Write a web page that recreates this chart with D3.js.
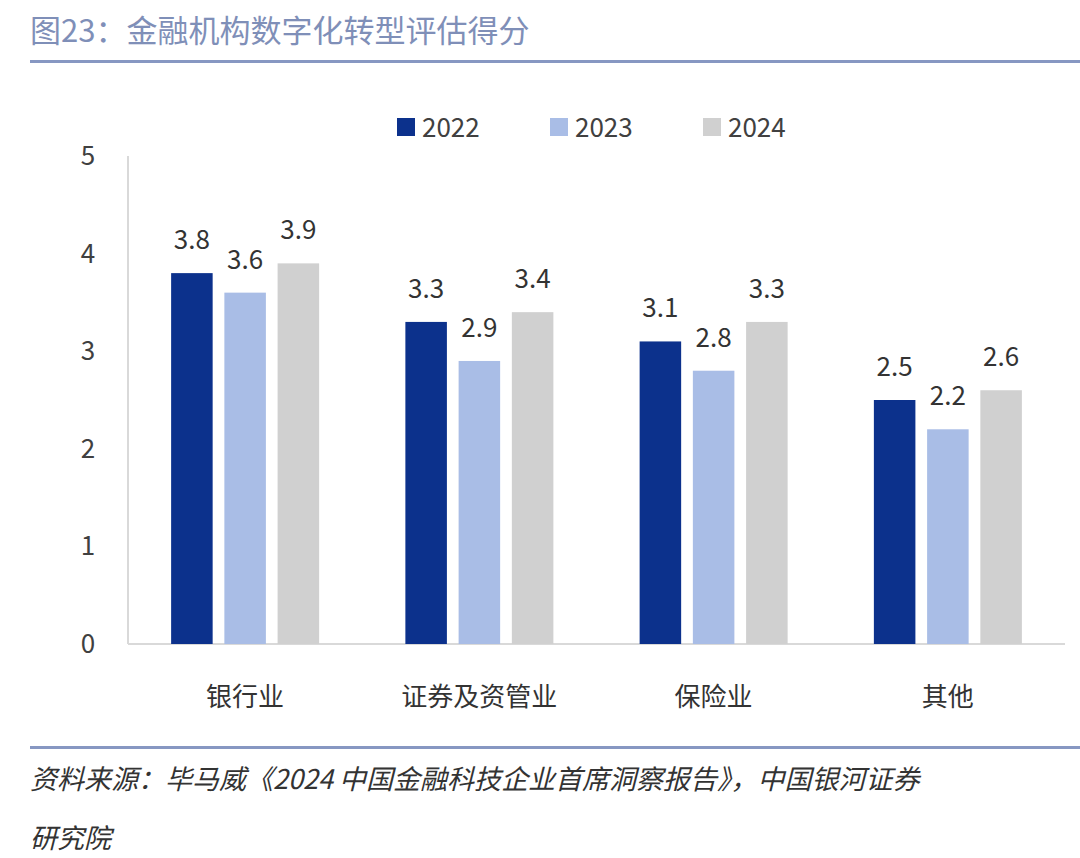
<!DOCTYPE html><html><head><meta charset="utf-8"><script src="https://cdn.jsdelivr.net/npm/d3@7"></script>
<style>body{margin:0;background:#fff}text{font-family:"Noto Sans CJK SC","Noto Sans",sans-serif}</style></head><body>
<svg id="c" width="1080" height="858"></svg>
<script>
const categories=["银行业","证券及资管业","保险业","其他"];
const seriesNames=["2022","2023","2024"];
const v2022=[3.8,3.3,3.1,2.5];
const v2023=[3.6,2.9,2.8,2.2];
const v2024=[3.9,3.4,3.3,2.6];
const yTicks=[0,1,2,3,4,5];
const colors=["#0c318c","#a9bde6","#d0d0d0"];
const vals=[v2022,v2023,v2024];
const svg=d3.select("#c");
svg.append("text").attr("x",30).attr("y",42).attr("font-size",31).attr("fill","#7f8fb8").text("图23：金融机构数字化转型评估得分");
svg.append("rect").attr("x",30).attr("y",60).attr("width",1050).attr("height",3).attr("fill","#8797c2");
svg.append("rect").attr("x",30).attr("y",746).attr("width",1050).attr("height",3).attr("fill","#8797c2");
const x=d3.scaleBand().domain(categories).range([128,1065]).paddingInner(0);
const y=d3.scaleLinear().domain([0,5]).range([644,156]);
const xs=d3.scaleBand().domain(seriesNames).range([-74,74]).paddingInner(0.22);
svg.append("line").attr("x1",128).attr("x2",128).attr("y1",156).attr("y2",644).attr("stroke","#d9d9d9").attr("stroke-width",2);
svg.append("line").attr("x1",128).attr("x2",1065).attr("y1",644).attr("y2",644).attr("stroke","#d9d9d9").attr("stroke-width",2);
yTicks.forEach(t=>svg.append("text").attr("x",88).attr("y",y(t)+9).attr("text-anchor","middle").attr("font-size",26).attr("fill","#404040").text(t));
categories.forEach((c,i)=>{
 const cx=x(c)+x.bandwidth()/2;
 svg.append("text").attr("x",cx).attr("y",706).attr("text-anchor","middle").attr("font-size",26).attr("fill","#333").text(c);
 seriesNames.forEach((s,j)=>{
  const v=vals[j][i],bx=cx+xs(s);
  svg.append("rect").attr("x",bx).attr("y",y(v)).attr("width",xs.bandwidth()).attr("height",y(0)-y(v)).attr("fill",colors[j]);
  svg.append("text").attr("x",bx+xs.bandwidth()/2).attr("y",y(v)-24).attr("text-anchor","middle").attr("font-size",26).attr("fill","#333").text(v.toFixed(1));
 });
});
seriesNames.forEach((s,j)=>{
 const lx=397+j*153;
 svg.append("rect").attr("x",lx).attr("y",118).attr("width",18).attr("height",18).attr("fill",colors[j]);
 svg.append("text").attr("x",lx+25).attr("y",137).attr("font-size",26).attr("fill","#404040").text(s);
});
svg.append("text").attr("x",30).attr("y",789).attr("font-size",27).attr("font-style","italic").attr("fill","#333").text("资料来源：毕马威《2024 中国金融科技企业首席洞察报告》，中国银河证券");
svg.append("text").attr("x",30).attr("y",848).attr("font-size",27).attr("font-style","italic").attr("fill","#333").text("研究院");
</script></body></html>
